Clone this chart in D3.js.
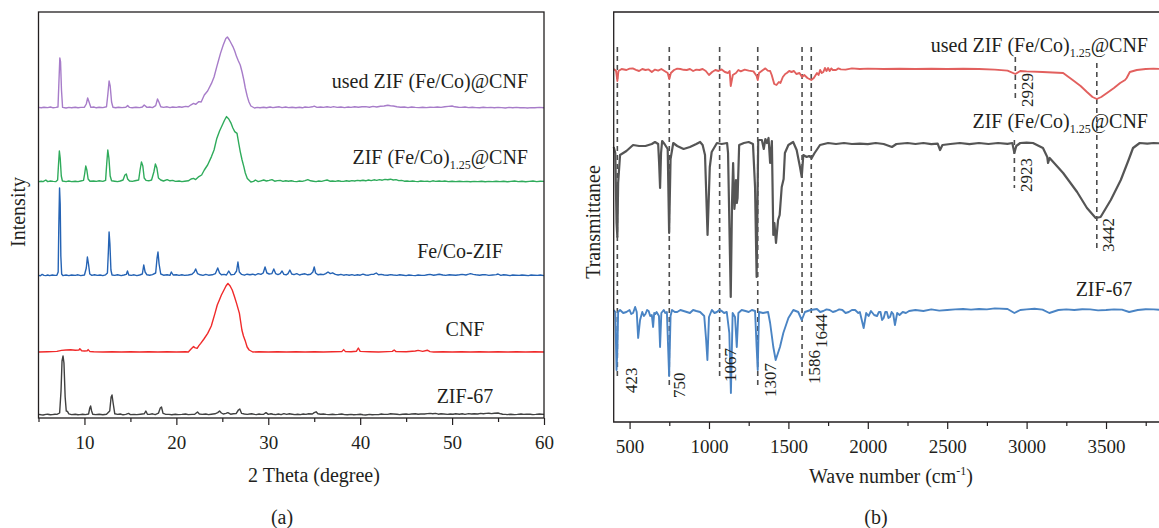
<!DOCTYPE html>
<html>
<head>
<meta charset="utf-8">
<script src="https://cdn.jsdelivr.net/npm/d3@7"></script>
<style>
  html, body { margin: 0; padding: 0; background: #ffffff; }
  svg { display: block; font-family: "Liberation Serif", "Times New Roman", serif; }
</style>
</head>
<body>
<svg id="chart" width="1159" height="528"></svg>
<script>
// ---------------- XRD data (2θ in degrees, intensity in a.u. above each trace's baseline) ----------------
const xrdTicks = [10, 20, 30, 40, 50, 60];
const xrdMinorTicks = [5, 15, 25, 35, 45, 55];

const xrdUsed = [
  5,0.3, 5.3,0.1, 5.6,0.4, 6,0.2, 6.3,0.5, 6.6,0.1, 6.9,0.3, 7.12,0.5, 7.23,14, 7.32,25, 7.4,23, 7.5,9, 7.62,0.3, 8,0, 8.3,0.3,
  8.6,0.1, 9,0.4, 9.3,0.1, 9.6,0.3, 10,0.4, 10.2,2, 10.35,5, 10.5,3, 10.7,0.3, 11,0.5, 11.3,0.1, 11.6,0.4, 12,0.2, 12.4,0.6,
  12.55,7, 12.68,13.5, 12.8,11, 12.95,3, 13.1,0.4, 13.4,0.1, 13.7,0.4, 14.1,0.2, 14.5,0.4, 14.7,1.2, 14.9,0.3, 15.2,0.1,
  15.6,0.4, 16,0.2, 16.3,0.5, 16.5,1.5, 16.8,0.3, 17.1,0.5, 17.4,0.2, 17.75,1.2, 17.95,4.5, 18.1,3, 18.3,0.6, 18.6,0.3,
  19,0.6, 19.3,0.2, 19.6,0.5, 20,0.3, 20.3,0.6, 20.6,0.4, 21,0.8, 21.3,0.6, 21.6,1.6, 21.87,2.3, 22.1,1.8, 22.3,2.6,
  22.45,3.2, 22.7,3, 23.04,6.5, 23.4,8.5, 23.82,12.3, 24.1,15.5, 24.4,20.7, 24.6,24, 24.8,27.3, 25.1,31.5, 25.38,34.8,
  25.55,35.5, 25.77,34, 26.0,32, 26.15,30.7, 26.35,28.5, 26.55,25.7, 26.75,23.5, 26.95,21.5, 27.15,18, 27.34,14, 27.5,10,
  27.72,5.7, 27.9,3, 28.11,1, 28.5,0, 28.8,0.3, 29.1,0.1, 29.5,0.4, 29.8,0.1, 30.2,0.5, 30.5,0.2, 30.8,0.4, 31.2,0.6,
  31.5,0.2, 31.9,0.5, 32.2,0.2, 32.6,0.4, 33,0.1, 33.4,0.4, 33.7,0.1, 34,0.5, 34.4,0.3, 34.8,0.6, 35,0.9, 35.3,0.3,
  35.7,0.5, 36,0.3, 36.4,0.6, 36.8,0.3, 37.1,0.7, 37.5,0.3, 37.9,0.5, 38.3,0.2, 38.7,0.5, 39,0.3, 39.4,0.6, 39.8,0.4,
  40.2,0.6, 40.6,0.7, 41,0.4, 41.4,0.8, 41.8,0.5, 42.2,0.9, 42.6,1.0, 43,1.4, 43.3,1.1, 43.6,1.0, 44,0.6, 44.4,0.4,
  44.8,0.5, 45.2,0.2, 45.6,0.5, 46,0.3, 46.4,0.2, 46.8,0.4, 47.2,0.2, 47.6,0.4, 48,0.3, 48.4,0.5, 48.8,0.3, 49.2,0.6,
  49.6,0.8, 50,1.0, 50.3,0.6, 50.7,0.4, 51,0.3, 51.4,0.5, 51.8,0.2, 52.2,0.4, 52.6,0.2, 53,0.1, 53.4,0.4, 53.8,0.2,
  54.2,0.3, 54.6,0.1, 55,0.3, 55.4,0.2, 55.8,0, 56.2,0.3, 56.6,0.1, 57,0.3, 57.4,0.1, 57.8,0.2, 58.2,0, 58.6,0.2,
  59,0.1, 59.5,0.3, 60,0.1
];

const xrdFeCo125 = [
  5,0.2, 5.3,0.4, 5.5,0.2, 5.8,1, 6,0.2, 6.3,0.5, 6.6,0.3, 6.9,0.2, 7.08,1, 7.18,9, 7.27,15.5, 7.36,12, 7.48,3, 7.6,0.5,
  8,0.2, 8.3,0.5, 8.6,0.2, 9,0.4, 9.3,0.2, 9.6,0.5, 9.9,0.8, 10.02,4, 10.14,8, 10.26,6, 10.4,1.5, 10.6,0.4, 11,0.5,
  11.3,0.3, 11.6,0.6, 12,0.3, 12.3,0.8, 12.42,9, 12.54,16, 12.66,12, 12.8,3, 12.95,0.6, 13.3,0.4, 13.6,0.2, 13.9,0.5,
  14.2,1, 14.4,3.5, 14.55,4, 14.7,1.5, 14.9,0.5, 15.2,0.3, 15.5,0.6, 15.9,1, 16.05,6, 16.2,10, 16.35,8, 16.5,2, 16.7,0.8,
  17,0.6, 17.3,1, 17.55,5, 17.72,9, 17.88,7, 18.05,2, 18.3,1, 18.6,0.5, 19,1.2, 19.3,0.6, 19.6,0.8, 19.9,0.3, 20.3,0.5,
  20.6,0.2, 20.9,0.4, 21.3,0.6, 21.6,1.5, 21.87,1.8, 22.1,1.2, 22.45,2.7, 22.75,3.5, 23.04,6, 23.4,8.5, 23.82,12.7,
  24.1,16, 24.4,21.8, 24.7,25.5, 25.0,28.5, 25.25,31, 25.46,32.7, 25.7,31.5, 25.96,29.3, 26.15,27, 26.35,25.2,
  26.6,24.3, 26.8,19, 26.95,15.2, 27.15,11, 27.34,7.7, 27.5,4.5, 27.72,1.8, 28.11,0, 28.4,0.3, 28.6,1.0, 28.9,0.2,
  29.2,0.6, 29.5,1, 29.8,0.5, 30.1,0.8, 30.4,1.2, 30.7,0.4, 31,0.7, 31.3,0.8, 31.6,0.3, 31.9,0.6, 32.2,0.4, 32.5,0.6,
  32.8,0.3, 33.1,0.2, 33.4,0.5, 33.7,0.3, 34,0.7, 34.3,1.2, 34.6,0.6, 34.9,0.4, 35.2,0.2, 35.5,0.5, 35.8,0.3, 36.1,0.7,
  36.4,1, 36.7,0.4, 37,0.5, 37.3,0.3, 37.6,0.6, 37.9,0.4, 38.2,0.3, 38.5,0.6, 38.8,0.4, 39.1,0.7, 39.4,0.5, 39.7,0.8,
  40,0.6, 40.3,0.9, 40.6,0.6, 40.9,1.0, 41.2,0.7, 41.5,1.1, 41.8,0.8, 42.1,1.2, 42.4,0.9, 42.7,1.3, 43,1.1, 43.3,1.4,
  43.6,1.0, 43.9,1.2, 44.2,0.7, 44.5,0.8, 44.8,0.4, 45.1,0.5, 45.4,0.3, 45.7,0.5, 46,0.3, 46.3,0.2, 46.6,0.5, 47,0.3,
  47.3,0.4, 47.6,0.2, 47.9,0.6, 48.2,0.3, 48.6,0.5, 48.9,0.3, 49.2,0.5, 49.6,0.2, 50,0.4, 50.4,0.2, 50.8,0.4, 51.2,0.2,
  51.6,0.3, 52,0.1, 52.4,0.3, 52.8,0.2, 53.2,0.4, 53.6,0.1, 54,0.3, 54.4,0.2, 54.8,0.4, 55.2,0.2, 55.6,0.4, 56,0.1,
  56.4,0.3, 56.8,0.5, 57.2,0.2, 57.6,0.4, 58,0.1, 58.4,0.3, 58.8,0.5, 59.2,0.2, 59.6,0.4, 60,0.3
];

const xrdFeCoZif = [
  5,0.3, 5.2,0.1, 5.4,0.8, 5.6,0.3, 5.8,0.2, 6.0,0.5, 6.2,0.2, 6.5,0.5, 6.8,0.3, 7.0,0.4, 7.14,2, 7.21,25, 7.29,44,
  7.36,36, 7.43,10, 7.52,1, 7.65,0.2, 8,0.5, 8.3,0.2, 8.6,0.5, 9,0.3, 9.3,0.6, 9.6,0.2, 10.0,0.5, 10.2,4, 10.32,9.5,
  10.44,6, 10.58,1, 10.8,0.3, 11.1,0.6, 11.4,0.3, 11.7,0.5, 12,0.2, 12.3,0.6, 12.5,1.5, 12.6,12, 12.68,22, 12.77,16,
  12.88,3, 13,0.5, 13.3,0.3, 13.6,0.6, 14,0.2, 14.3,0.5, 14.55,0.8, 14.68,2.5, 14.82,0.5, 15.1,0.3, 15.4,0.6, 15.7,0.2,
  16.0,0.5, 16.3,1, 16.45,5.5, 16.6,2, 16.8,0.6, 17.1,0.4, 17.4,0.7, 17.75,1.5, 17.9,9, 18.0,12, 18.12,6, 18.3,1,
  18.6,0.4, 19,0.6, 19.3,0.3, 19.45,2, 19.65,0.5, 20,0.6, 20.3,0.3, 20.6,0.6, 20.9,0.3, 21.3,0.5, 21.7,0.9, 21.95,2,
  22.1,3.5, 22.3,1.2, 22.6,0.6, 22.9,0.3, 23.2,0.8, 23.5,0.4, 23.9,0.6, 24.25,1.2, 24.5,4, 24.7,1.5, 24.9,0.6, 25.2,0.8,
  25.45,0.5, 25.7,2.5, 25.95,0.6, 26.3,0.8, 26.55,2.5, 26.7,7, 26.85,2, 27.1,0.8, 27.4,0.4, 27.7,0.9, 28,0.6, 28.3,0.9,
  28.6,0.5, 28.9,1.2, 29.2,0.8, 29.45,1.5, 29.65,4.5, 29.85,1.5, 30.1,1, 30.4,1.2, 30.6,3.5, 30.8,1.2, 31.05,0.7,
  31.3,1.2, 31.5,2.5, 31.7,0.8, 31.95,0.6, 32.15,1.2, 32.35,3, 32.55,1, 32.8,0.7, 33.1,1.2, 33.4,0.5, 33.7,0.9, 34.0,1.1,
  34.3,0.6, 34.6,0.9, 34.85,2, 35.0,4.5, 35.15,1.5, 35.4,0.6, 35.7,0.9, 36.0,0.7, 36.25,1.2, 36.5,2, 36.75,1.2, 37.0,1.6,
  37.3,0.8, 37.6,0.5, 37.9,0.8, 38.2,0.4, 38.5,0.7, 38.8,0.4, 39.1,0.7, 39.4,0.3, 39.7,0.6, 40,0.4, 40.3,0.9, 40.6,0.5,
  40.9,0.4, 41.2,0.8, 41.5,0.9, 41.75,1.5, 42,0.6, 42.3,0.8, 42.6,0.5, 43,0.4, 43.3,0.7, 43.6,0.5, 44,0.3, 44.3,0.6,
  44.7,0.4, 45,0.2, 45.3,0.5, 45.7,0.3, 46,0.2, 46.3,0.5, 46.7,0.3, 47,0.3, 47.3,0.6, 47.6,0.8, 48,0.4, 48.3,0.6,
  48.6,0.9, 49,0.5, 49.3,0.3, 49.7,0.6, 50,0.5, 50.4,0.4, 50.8,0.6, 51.1,0.8, 51.5,0.5, 51.8,0.9, 52,1.2, 52.3,0.8,
  52.6,0.6, 53,0.4, 53.3,0.6, 53.6,0.7, 54,0.3, 54.4,0.5, 54.8,0.7, 55,1, 55.3,0.3, 55.6,0.6, 55.9,0.5, 56.3,0.2,
  56.6,0.5, 56.9,0.4, 57.3,0.3, 57.6,0.5, 57.9,0.4, 58.3,0.2, 58.6,0.5, 58.9,0.4, 59.3,0.3, 59.6,0.5, 60,0.2
];

const xrdCnf = [
  5,0, 6,0.1, 7,0.3, 7.5,0.8, 8,1, 8.5,1.1, 9,0.9, 9.4,1.0, 9.5,1.6, 9.7,0.6, 10,0.5, 10.3,0.6, 10.4,1.2, 10.6,0.2,
  11,0.1, 12,0, 13,0.1, 14,0, 15,0.1, 16,0, 17,0.1, 18,0, 19,0.1, 20,0, 21,0.1, 21.3,0, 21.6,1.5, 21.87,2.7, 22.0,2.2,
  22.26,1.8, 22.45,3.2, 22.65,4.3, 23.0,6.5, 23.41,9.3, 23.8,13, 24.2,19.3, 24.45,23.5, 24.68,26, 24.9,28.5, 25.18,31,
  25.4,33, 25.61,34.3, 25.85,33, 26.08,31, 26.3,28, 26.55,24.3, 26.86,19.3, 27.0,15, 27.13,11, 27.3,8, 27.52,5.2,
  27.7,2.5, 27.92,1, 28.31,0, 29,0.1, 30,0, 31,0.1, 32,0, 33,0.1, 34,0, 35,0.1, 36,0, 37,0.1, 38,0.2, 38.2,1.2,
  38.4,0.2, 39,0.1, 39.6,0.4, 39.8,2, 40,0.3, 41,0.1, 42,0, 43,0.2, 43.5,0.3, 43.7,1, 43.9,0.2, 45,0.1, 46,0.5,
  46.3,0.8, 46.8,0.3, 47.3,0.9, 47.6,0.2, 48,0, 49,0.1, 50,0, 51,0.1, 52,0, 53,0.1, 54,0, 55,0.1, 56,0, 57,0.1, 58,0,
  59,0.1, 60,0
];

const xrdZif67 = [
  5,0.3, 5.3,0.1, 5.5,0, 5.8,0.3, 6,0.4, 6.3,0.1, 6.5,0.2, 6.8,0.4, 7,0.3, 7.3,1, 7.45,12, 7.56,27, 7.67,29.5,
  7.77,26, 7.9,9, 8.02,2, 8.15,1.8, 8.3,0.6, 8.6,0.2, 9,0.4, 9.3,0.1, 9.5,0.2, 9.8,0.4, 10.1,0.2, 10.45,0.5,
  10.58,3.5, 10.67,4.5, 10.78,2, 10.9,0.4, 11.2,0.2, 11.6,0.4, 12,0.1, 12.4,0.4, 12.75,2, 12.9,9, 13.0,10, 13.12,6,
  13.3,0.6, 13.6,0.3, 13.9,0.5, 14.2,0.1, 14.5,0.3, 14.8,0.8, 15.0,0.2, 15.4,0.3, 15.7,0.2, 16.1,0.4, 16.5,0.6,
  16.68,2, 16.85,0.4, 17.1,0.3, 17.4,0.6, 17.7,0.2, 18.05,0.9, 18.25,3.5, 18.38,4, 18.55,0.8, 18.8,0.4, 19.2,0.3,
  19.5,0.1, 19.9,0.4, 20.2,0.2, 20.6,0.3, 21,0.5, 21.3,0.2, 21.7,0.3, 22,0.4, 22.3,1.5, 22.5,0.5, 22.8,0.3, 23.2,0.5,
  23.5,0.2, 23.8,0.4, 24.2,0.6, 24.5,1.2, 24.7,2, 24.9,1, 25.1,0.5, 25.4,0.8, 25.6,1.2, 25.9,0.4, 26.2,0.6, 26.5,0.7,
  26.75,2.5, 26.9,3, 27.1,0.8, 27.4,0.5, 27.7,0.3, 28.0,0.5, 28.2,0.6, 28.5,0.3, 28.7,0.2, 29.0,0.5, 29.2,0.3,
  29.5,0.4, 29.75,1.2, 30.0,0.3, 30.3,0.6, 30.5,0.4, 30.8,0.2, 31.1,0.5, 31.4,0.2, 31.7,0.7, 32.0,0.3, 32.3,0.6,
  32.6,0.4, 32.9,0.2, 33.2,0.4, 33.5,0.2, 33.8,0.5, 34.1,0.3, 34.4,0.6, 34.8,0.5, 35.0,1.2, 35.2,1.6, 35.4,0.6, 35.7,0.4,
  36,0.5, 36.3,0.3, 36.6,0.2, 37,0.4, 37.3,0.2, 37.6,0.3, 38,0.5, 38.3,0.2, 38.6,0.1, 39,0.3, 39.3,0.1, 39.6,0.2,
  40,0.4, 40.3,0.1, 40.6,0, 41,0.3, 41.3,0.1, 41.6,0.2, 42,0.2, 42.3,0.5, 42.6,0.3, 43,0.3, 43.3,0.6, 43.6,0.5, 44,0.4,
  44.3,0.2, 44.6,0.4, 45,0.5, 45.3,0.3, 45.6,0.5, 46,0.6, 46.3,0.4, 46.6,0.5, 47,0.5, 47.3,0.7, 47.6,0.8, 47.9,0.6,
  48.2,0.8, 48.5,0.4, 48.8,0.6, 49.1,0.5, 49.5,0.3, 49.8,0.5, 50.1,0.4, 50.4,0.6, 50.8,0.4, 51.1,0.6, 51.4,0.3, 51.8,0.7,
  52.1,0.5, 52.4,0.6, 52.8,0.5, 53.1,0.8, 53.4,0.6, 53.7,0.8, 54,0.9, 54.3,0.7, 54.6,0.9, 55,1, 55.3,0.6, 55.5,0.4,
  55.8,0.3, 56,0.2, 56.4,0.4, 56.8,0.2, 57.1,0.3, 57.5,0.5, 57.8,0.3, 58.1,0.4, 58.5,0.4, 58.8,0.2, 59.1,0.3, 59.5,0.5,
  60,0.3
];

// stacking offsets of the XRD traces (a.u.)
const xrdNames = ["used ZIF (Fe/Co)@CNF", "ZIF (Fe/Co)1.25@CNF", "Fe/Co-ZIF", "CNF", "ZIF-67"];
const xrdOffsets = [155, 118, 71, 33, 1.5];

// ---------------- FTIR data (wave number in cm-1, transmittance in a.u. relative to each baseline) ----------------
const ftirTicks = [500, 1000, 1500, 2000, 2500, 3000, 3500];
const ftirMinorTicks = [750, 1250, 1750, 2250, 2750, 3250, 3750];

const ftirUsed = [
  400,0, 415,-1, 423,-6, 430,-1, 450,0, 480,-0.5, 500,0.2, 520,0.3, 540,-0.4, 560,-1, 580,0, 600,-0.5, 620,-0.2,
  640,-1.5, 660,-0.3, 680,-0.8, 700,0, 720,-1, 740,-2, 750,-5, 760,-2, 780,-0.5, 800,0.2, 820,0, 840,-0.4, 860,-0.5,
  880,0, 900,-1, 920,-0.3, 940,-0.5, 960,0, 980,-1, 1000,-3, 1020,-1.5, 1040,-0.5, 1060,-1, 1080,-0.2, 1100,-1.5,
  1120,-2, 1130,-1, 1137,-8.5, 1150,-3, 1170,-2, 1185,-0.5, 1200,-1.2, 1225,-0.3, 1250,-0.8, 1280,-1.2, 1300,-3.5,
  1307,-5.5, 1315,-2, 1340,-0.5, 1355,0.3, 1370,-0.8, 1385,-1, 1395,-3, 1411,-7.5, 1425,-8, 1440,-6.5, 1450,-7,
  1465,-4, 1480,-2.5, 1490,-2, 1505,-1, 1520,-1.5, 1535,-1, 1550,-2.5, 1570,-2, 1586,-4, 1600,-3, 1620,-4.5, 1644,-5.5,
  1660,-4.5, 1680,-2, 1690,-3, 1700,-0.5, 1710,-2, 1720,-1.5, 1730,0.5, 1740,-1, 1750,0.5, 1760,-1, 1770,0.3,
  1780,-0.5, 1800,-0.5, 1815,0.3, 1830,-0.2, 1860,-0.3, 1900,0.3, 1950,0, 2000,0.2, 2100,0, 2200,0.1, 2300,0, 2400,0.1,
  2500,0, 2600,0.1, 2700,0, 2800,-0.3, 2880,-0.8, 2929,-2.5, 2960,-1, 3000,-1.2, 3100,-1.5, 3230,-2, 3290,-5.5,
  3340,-8.5, 3380,-11.5, 3415,-14, 3442,-15, 3470,-14, 3506,-12, 3550,-9.5, 3589,-7, 3620,-5.5, 3630,-4.5, 3650,-1.5,
  3694,-0.5, 3750,0, 3800,0.2, 3850,0
];

const ftirFeCo125 = [
  400,-2, 410,-5, 418,-40, 423,-47, 428,-20, 440,-6, 480,-4, 522,-1, 560,-1.5, 600,-1.5, 640,-0.5, 660,0.5, 680,-0.5,
  686,-10, 692,-22.5, 698,-5, 705,1, 720,-0.5, 740,-3, 749,-45, 758,-8, 775,0, 800,-1.5, 840,-3, 880,-2, 920,-0.5,
  944,0.5, 960,-1, 975,-6, 991,-46, 1005,-12, 1017,-4.5, 1050,0, 1080,-0.5, 1114,0, 1120,-5, 1137,-77, 1145,-30,
  1152,-10, 1160,-33, 1165,-28.5, 1170,-18.5, 1175,-30, 1180,-27.5, 1190,-1, 1220,0, 1250,0.5, 1277,-0.5, 1290,-22,
  1300,-67, 1310,1.5, 1333,1.5, 1345,-3, 1355,2, 1365,0, 1375,2.5, 1385,-10, 1396,1, 1405,-46, 1412,-40, 1422,-50,
  1435,-38.5, 1445,-36, 1458,-22, 1470,-18, 1478,-5, 1500,-1, 1520,0, 1530,0.5, 1552,-3.5, 1573,-12, 1584,-17,
  1594,-6, 1615,-7, 1630,-6.5, 1647,-7.5, 1665,-5, 1678,-3.5, 1699,-1, 1750,0, 1800,-0.5, 1850,0, 1900,-0.5,
  1950,-0.3, 2000,-0.6, 2050,0, 2100,-0.5, 2152,-2, 2180,-0.5, 2250,0, 2300,-0.5, 2350,0, 2400,-0.6, 2440,-0.3,
  2455,-3.5, 2470,-1, 2520,-0.5, 2580,0, 2640,-0.6, 2700,0, 2760,-0.5, 2820,0, 2880,-0.4, 2910,0, 2923,-5, 2935,-1.5,
  2960,0, 3000,0.2, 3040,0, 3103,-2.5, 3130,-7, 3135,-10, 3145,-7.5, 3230,-15, 3318,-24.5, 3380,-32.5, 3435,-37.5,
  3466,-37, 3530,-28.5, 3593,-18.5, 3642,-8.5, 3670,-2.5, 3712,0, 3760,-0.3, 3800,0, 3850,-0.2
];

const ftirZif67 = [
  400,0, 410,-1, 418,-30, 423,-20, 428,-1, 440,0, 460,-1.5, 480,-1, 500,0, 510,-2, 522,-1.5, 535,1.5, 545,-1, 554,-14,
  566,-5, 580,-1, 590,-3, 600,-2, 610,0, 620,-0.5, 630,-3, 640,-2.5, 648,-8.5, 655,-1.5, 662,-2, 670,-1, 685,-3,
  692,-18.5, 700,-1.5, 715,0, 725,-1.5, 735,-1, 749,-33, 758,-3, 767,0, 785,-1, 800,-1, 820,0, 840,-0.5, 860,-1,
  880,-1.5, 900,0, 920,-0.5, 944,-1, 970,-3, 982,-15, 990,-25, 1000,-3.5, 1018,0, 1035,-1.5, 1050,-1, 1065,0,
  1080,-0.5, 1095,-1.5, 1112,-1, 1128,-11.5, 1138,-41.5, 1149,-1.5, 1164,-3.5, 1175,-18.5, 1185,-1.5, 1206,0, 1230,-0.5,
  1250,-1, 1270,0, 1290,-0.5, 1300,-18.5, 1307,-30, 1315,-1, 1340,-1.5, 1372,-1, 1385,-6.5, 1405,-18.5, 1420,-25,
  1447,-18.5, 1468,-11.5, 1500,-4, 1531,0, 1562,-1, 1584,-5, 1604,-1, 1640,0, 1680,0.5, 1700,-1, 1720,-0.5, 1740,0.3,
  1760,0, 1780,-1, 1800,-0.5, 1820,0.3, 1840,0, 1860,-1.5, 1880,-1, 1900,0, 1920,0, 1940,-1.5, 1950,-1, 1974,-9,
  1990,-1.5, 2005,-3, 2020,-0.5, 2040,-2.5, 2058,-3, 2070,-1, 2080,-1, 2090,-5, 2100,-4, 2110,-1, 2120,-1, 2130,-4,
  2140,-3.5, 2150,-1, 2160,-2, 2171,-7.5, 2185,-1.5, 2200,-2.5, 2220,-1, 2240,-1.5, 2260,-0.5, 2300,0, 2350,-0.5,
  2400,0.3, 2450,-0.3, 2500,0, 2550,0.3, 2600,0.5, 2650,0.2, 2700,0.5, 2750,0.3, 2800,0.8, 2880,0.5, 2923,-1.5, 2960,0,
  3000,0.3, 3050,0.6, 3100,0.2, 3143,-1.5, 3200,0, 3250,0.3, 3300,0, 3350,0.4, 3400,0.3, 3450,-0.2, 3500,0, 3550,0.3,
  3600,0.2, 3646,-1, 3700,0, 3750,0.4, 3800,0.3, 3850,0
];

const ftirNames = ["used ZIF (Fe/Co)1.25@CNF", "ZIF (Fe/Co)1.25@CNF", "ZIF-67"];
const ftirOffsets = [176.5, 139.5, 56];

// marked band positions (cm-1)
const bandValues = [423, 750, 1067, 1307, 1586, 1644, 2929, 2923, 3442];
const bandLabels = ["423", "750", "1067", "1307", "1586", "1644", "2929", "2923", "3442"];

// ---------------- drawing ----------------
const INK = "#231f20";
const svg = d3.select("#chart");
const pairs = a => { const out = []; for (let i = 0; i < a.length; i += 2) out.push([a[i], a[i + 1]]); return out; };

// ===== Panel (a): XRD =====
const xA = d3.scaleLinear().domain([5, 60]).range([38.5, 544]);
const yA = d3.scaleLinear().domain([0, 203]).range([418, 12]);
const xrdColors = ["#a77cc9", "#2fab5b", "#2563b4", "#f02a2a", "#404040"];
const xrdData = [xrdUsed, xrdFeCo125, xrdFeCoZif, xrdCnf, xrdZif67];

const gA = svg.append("g");
xrdData.forEach((arr, i) => {
  const off = xrdOffsets[i];
  const line = d3.line().x(d => xA(d[0])).y(d => yA(off + d[1]));
  gA.append("path").attr("d", line(pairs(arr)))
    .attr("fill", "none").attr("stroke", xrdColors[i]).attr("stroke-width", 1.4)
    .attr("stroke-linejoin", "round");
});

gA.append("rect").attr("x", xA(5)).attr("y", yA(203))
  .attr("width", xA(60) - xA(5)).attr("height", yA(0) - yA(203))
  .attr("fill", "none").attr("stroke", INK).attr("stroke-width", 1.3);

function styleAxis(g) {
  g.select(".domain").remove();
  g.selectAll(".tick line").attr("stroke", INK).attr("stroke-width", 1.2);
  g.selectAll(".tick text").attr("fill", INK).attr("font-size", 19)
    .attr("font-family", "Liberation Serif, Times New Roman, serif");
}

gA.append("g").attr("transform", `translate(0,${yA(0)})`)
  .call(d3.axisBottom(xA).tickValues(xrdMinorTicks).tickSize(4).tickFormat(""))
  .call(styleAxis);
gA.append("g").attr("transform", `translate(0,${yA(0)})`)
  .call(d3.axisBottom(xA).tickValues(xrdTicks).tickSize(7).tickPadding(11).tickFormat(d3.format("d")))
  .call(styleAxis);

// trace labels
function labelWithSub(g, x, y, anchor, parts) {
  const t = g.append("text").attr("x", x).attr("y", y).attr("text-anchor", anchor)
    .attr("font-size", 20).attr("fill", INK);
  parts.forEach(p => {
    const ts = t.append("tspan").text(p.text);
    if (p.sub) ts.attr("font-size", 12).attr("dy", 5);
    if (p.after) ts.attr("dy", -5);
  });
  return t;
}
labelWithSub(gA, 528, 88, "end", [{ text: "used ZIF (Fe/Co)@CNF" }]);
labelWithSub(gA, 528, 164, "end", [{ text: "ZIF (Fe/Co)" }, { text: "1.25", sub: true }, { text: "@CNF", after: true }]);
labelWithSub(gA, 460, 258, "middle", [{ text: "Fe/Co-ZIF" }]);
labelWithSub(gA, 465, 336, "middle", [{ text: "CNF" }]);
labelWithSub(gA, 465, 403, "middle", [{ text: "ZIF-67" }]);

gA.append("text").attr("x", 314).attr("y", 482).attr("text-anchor", "middle")
  .attr("font-size", 20).attr("fill", INK).text("2 Theta (degree)");
gA.append("text").attr("transform", "translate(25,212) rotate(-90)").attr("text-anchor", "middle")
  .attr("font-size", 20).attr("fill", INK).text("Intensity");
gA.append("text").attr("x", 282).attr("y", 524).attr("text-anchor", "middle")
  .attr("font-size", 20).attr("fill", INK).text("(a)");

// ===== Panel (b): FTIR =====
const xB = d3.scaleLinear().domain([400, 3850]).range([613.7, 1161.6]);
const yB = d3.scaleLinear().domain([0, 205]).range([422, 12]);
const ftirColors = ["#e2605e", "#555555", "#4a84c4"];
const ftirData = [ftirUsed, ftirFeCo125, ftirZif67];

const gB = svg.append("g");

// band guides: top / bottom extent of each dashed line (px) and label placement
const bandLayout = [
  { y0: 47, y1: 380, dx: 14, yb: 393 },
  { y0: 47, y1: 388, dx: 10, yb: 398 },
  { y0: 47, y1: 378, dx: 10, yb: 382 },
  { y0: 47, y1: 388, dx: 12, yb: 397 },
  { y0: 47, y1: 377, dx: 12, yb: 384 },
  { y0: 47, y1: 313, dx: 10, yb: 348 },
  { y0: 57, y1: 98, dx: 12, yb: 107 },
  { y0: 140, y1: 188, dx: 12, yb: 192 },
  { y0: 63, y1: 252, dx: 11, yb: 252 }
];
bandValues.forEach((v, i) => {
  const L = bandLayout[i];
  gB.append("line").attr("x1", xB(v)).attr("x2", xB(v)).attr("y1", L.y0).attr("y2", L.y1)
    .attr("stroke", "#4d4d4d").attr("stroke-width", 1.6).attr("stroke-dasharray", "5,4");
});

ftirData.forEach((arr, i) => {
  const off = ftirOffsets[i];
  const line = d3.line().x(d => xB(d[0])).y(d => yB(off + d[1]));
  gB.append("path").attr("d", line(pairs(arr)))
    .attr("fill", "none").attr("stroke", ftirColors[i]).attr("stroke-width", i === 1 ? 2.2 : 1.9)
    .attr("stroke-linejoin", "round");
});

bandValues.forEach((v, i) => {
  const L = bandLayout[i];
  gB.append("text").attr("transform", `translate(${xB(v) + L.dx + 6},${L.yb}) rotate(-90)`)
    .attr("font-size", 17).attr("fill", INK).text(bandLabels[i]);
});

// frame: left, top, bottom (right side runs past the edge)
gB.append("path")
  .attr("d", `M${xB(3850) + 10},${yB(205)}H${xB(400)}V${yB(0)}H${xB(3850) + 10}`)
  .attr("fill", "none").attr("stroke", INK).attr("stroke-width", 1.3);

gB.append("g").attr("transform", `translate(0,${yB(0)})`)
  .call(d3.axisBottom(xB).tickValues(ftirMinorTicks).tickSize(4).tickFormat(""))
  .call(styleAxis);
gB.append("g").attr("transform", `translate(0,${yB(0)})`)
  .call(d3.axisBottom(xB).tickValues(ftirTicks).tickSize(7).tickPadding(11).tickFormat(d3.format("d")))
  .call(styleAxis);

labelWithSub(gB, 1148, 52, "end", [{ text: "used ZIF (Fe/Co)" }, { text: "1.25", sub: true }, { text: "@CNF", after: true }]);
labelWithSub(gB, 1148, 128, "end", [{ text: "ZIF (Fe/Co)" }, { text: "1.25", sub: true }, { text: "@CNF", after: true }]);
labelWithSub(gB, 1104, 296, "middle", [{ text: "ZIF-67" }]);

const xt = gB.append("text").attr("x", 891).attr("y", 483).attr("text-anchor", "middle")
  .attr("font-size", 20).attr("fill", INK);
xt.append("tspan").text("Wave number (cm");
xt.append("tspan").attr("font-size", 12).attr("dy", -8).text("-1");
xt.append("tspan").attr("dy", 8).text(")");

gB.append("text").attr("transform", "translate(600,222) rotate(-90)").attr("text-anchor", "middle")
  .attr("font-size", 20).attr("fill", INK).text("Transmittanee");
gB.append("text").attr("x", 876).attr("y", 524).attr("text-anchor", "middle")
  .attr("font-size", 20).attr("fill", INK).text("(b)");
</script>
</body>
</html>
